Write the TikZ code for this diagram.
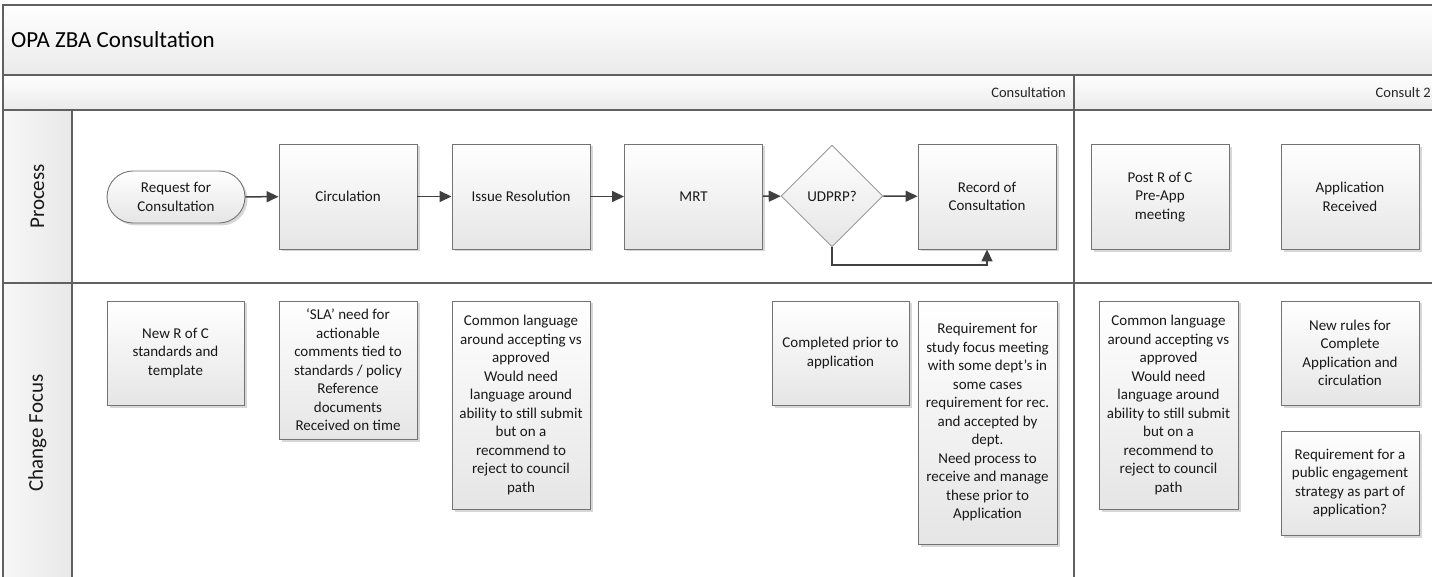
\documentclass[tikz,border=0pt]{standalone}
\usepackage{fontspec}
\setmainfont{Carlito}
\usetikzlibrary{arrows.meta,shapes.geometric,shadows}
\tikzset{
  frame/.style={draw=black!62, line width=1.3pt},
  box/.style={draw=black!55, line width=0.9pt, top color=white, bottom color=black!10,
    minimum width=138pt, minimum height=105pt, align=center, inner sep=2pt,
    font=\fontsize{15}{18.5}\selectfont, text=black!90,
    drop shadow={shadow xshift=2.5pt, shadow yshift=-2.5pt, fill=black!35, opacity=0.45}},
  conn/.style={draw=black!75, line width=1.5pt, -{Triangle[length=12pt,width=11pt]}},
  lanelabel/.style={rotate=90, font=\fontsize{21}{24}\selectfont, text=black!90},
  phaselabel/.style={anchor=east, inner sep=0pt, font=\fontsize{14.5}{17}\selectfont, text=black!85},
}
\begin{document}
\begin{tikzpicture}[x=1pt,y=-1pt]
\useasboundingbox (0,0) rectangle (1432,577);
\clip (0,0) rectangle (1432,577);
% backgrounds
\path[top color=white, bottom color=black!8] (3,5) rectangle (1445,75);
\path[top color=white, bottom color=black!8] (3,75) rectangle (1445,110);
\path[left color=black!3, right color=black!9] (3,110) rectangle (72,590);
% frame lines
\draw[frame] (1445,5) -- (3,5) -- (3,590);
\draw[frame] (3,75) -- (1445,75);
\draw[frame] (3,110) -- (1445,110);
\draw[frame] (3,283) -- (1445,283);
\draw[frame] (72,110) -- (72,590);
\draw[frame] (1074,75) -- (1074,590);
% labels
\node[anchor=west, inner sep=0pt, font=\fontsize{23}{27}\selectfont] (title) at (11,40) {OPA ZBA Consultation};
\node[phaselabel] (ph1) at (1066,92.5) {Consultation};
\node[phaselabel] (ph2) at (1431,92.5) {Consult 2};
\node[lanelabel] (lp) at (37.5,196.5) {Process};
\node[lanelabel] (lc) at (37.5,433) {Change Focus};
% process row
\node[box, rounded corners=26pt, minimum height=52pt] (req) at (176,197) {Request for\\Consultation};
\node[box] (circ) at (348,196.5) {Circulation};
\node[box] (issue) at (521,196.5) {Issue Resolution};
\node[box] (mrt) at (693.5,196.5) {MRT};
\node[diamond, draw=black!40, line width=0.9pt, top color=white, bottom color=black!10,
  minimum width=102pt, minimum height=102pt, inner sep=0pt,
  font=\fontsize{15}{18.5}\selectfont, text=black!90] (dec) at (832,196) {UDPRP?};
\node[box] (rec) at (987,196.5) {Record of\\Consultation};
\node[box] (post) at (1160,197) {Post R of C\\Pre-App\\meeting};
\node[box] (appl) at (1350,197) {Application\\Received};
% connectors
\draw[conn] (req) -- (circ);
\draw[conn] (circ) -- (issue);
\draw[conn] (issue) -- (mrt);
\draw[conn] (mrt) -- (dec);
\draw[conn] (dec) -- (rec);
\coordinate (bend) at (832,265);
\draw[conn] (dec.south) -- (bend) -| (rec.south);
% change focus row
\node[box, minimum width=137pt, minimum height=104pt] (cf1) at (175.5,353) {New R of C\\standards and\\template};
\node[box, minimum height=138pt] (cf2) at (348,370) {‘SLA’ need for\\actionable\\comments tied to\\standards / policy\\Reference\\documents\\Received on time};
\node[box, minimum height=208pt] (cf3) at (521,405) {Common language\\around accepting vs\\approved\\Would need\\language around\\ability to still submit\\but on a\\recommend to\\reject to council\\path};
\node[box, minimum width=137pt, minimum height=104pt] (cf4) at (840.5,353) {Completed prior to\\application};
\node[box, minimum width=139pt, minimum height=243pt] (cf5) at (987.5,422.5) {Requirement for\\study focus meeting\\with some dept’s in\\some cases\\requirement for rec.\\and accepted by\\dept.\\Need process to\\receive and manage\\these prior to\\Application};
\node[box, minimum width=139pt, minimum height=208pt] (cf6) at (1168.5,405) {Common language\\around accepting vs\\approved\\Would need\\language around\\ability to still submit\\but on a\\recommend to\\reject to council\\path};
\node[box, minimum height=104pt] (cf7) at (1350,353) {New rules for\\Complete\\Application and\\circulation};
\node[box, minimum height=104pt] (cf8) at (1350,483) {Requirement for a\\public engagement\\strategy as part of\\application?};
\end{tikzpicture}
\end{document}
